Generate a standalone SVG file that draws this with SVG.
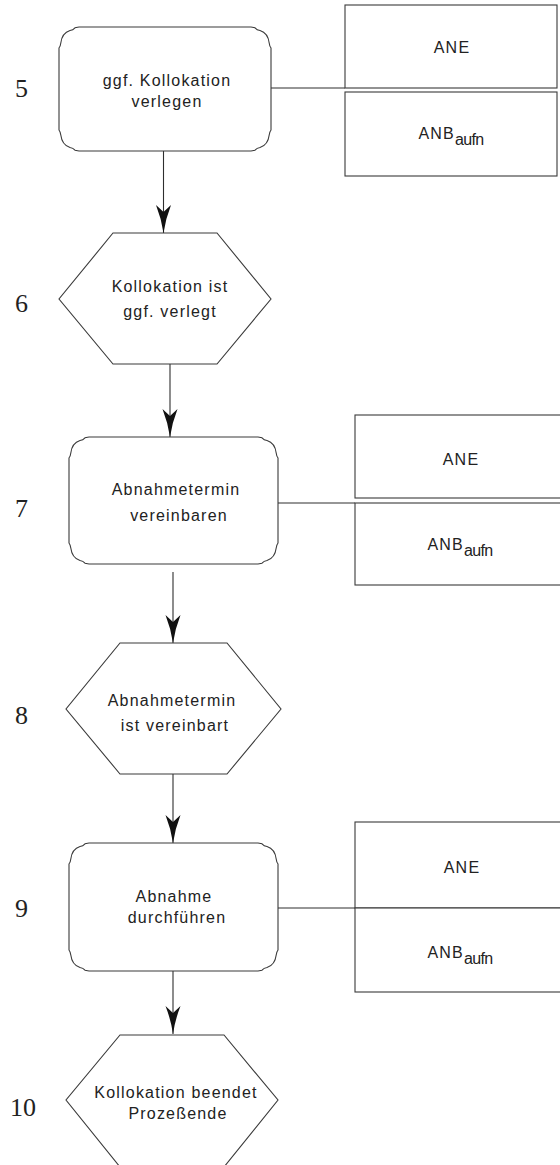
<svg xmlns="http://www.w3.org/2000/svg" width="560" height="1165" viewBox="0 0 560 1165">
  <style>
    .shape { fill: #ffffff; stroke: #3a3a3a; stroke-width: 1.1; }
    .wire { fill: none; stroke: #2e2e2e; stroke-width: 1.1; }
    .lbl { font-family: "Liberation Sans", Arial, sans-serif; font-size: 16px; letter-spacing: 1.2px; fill: #222222; text-anchor: middle; }
    .sub { font-size: 16px; letter-spacing: -0.6px; }
    .num { font-family: "Liberation Serif", "Times New Roman", serif; font-size: 26px; fill: #222222; }
  </style>
  <defs>
    <!-- barbed arrowhead, tip at the path end -->
    <marker id="head" markerUnits="userSpaceOnUse" orient="auto" refX="0" refY="0" markerWidth="40" markerHeight="20" viewBox="-30 -10 32 20" overflow="visible">
      <path d="M0,0 Q-14,-2 -28,-7.5 L-21,0 L-28,7.5 Q-14,2 0,0 Z" fill="#111111"/>
    </marker>
  </defs>

  <!-- step numbers -->
  <g id="step-numbers">
    <text class="num" x="15" y="97">5</text>
    <text class="num" x="15" y="312">6</text>
    <text class="num" x="15" y="517">7</text>
    <text class="num" x="15" y="724">8</text>
    <text class="num" x="15" y="917">9</text>
    <text class="num" x="10" y="1116">10</text>
  </g>

  <!-- connectors -->
  <g id="connectors">
    <line class="wire" x1="163.5" y1="151" x2="163.5" y2="233" marker-end="url(#head)"/>
    <line class="wire" x1="170" y1="364" x2="170" y2="437" marker-end="url(#head)"/>
    <line class="wire" x1="173" y1="572" x2="173" y2="643" marker-end="url(#head)"/>
    <line class="wire" x1="173" y1="774" x2="173" y2="843" marker-end="url(#head)"/>
    <line class="wire" x1="173" y1="971" x2="173" y2="1034" marker-end="url(#head)"/>
    <line class="wire" x1="271" y1="88" x2="345" y2="88"/>
    <line class="wire" x1="278" y1="503" x2="355" y2="503"/>
    <line class="wire" x1="278" y1="908" x2="355" y2="908"/>
  </g>

  <!-- function: ggf. Kollokation verlegen (212 x 124) -->
  <g id="fn-kollokation-verlegen">
    <path class="shape" transform="translate(59,27)" d="M20,0 h172 l4,0.8 q2,2.2 5,2.7 q8,2.5 9.2,12.5 q0.3,3 1.8,5 l0,2 v78 l0,2 q-1.5,2 -1.8,5 q-1.2,10 -9.2,12.5 q-3,0.5 -5,2.7 l-4,0.8 h-172 l-4,-0.8 q-2,-2.2 -5,-2.7 q-8,-2.5 -9.2,-12.5 q-0.3,-3 -1.8,-5 l0,-2 v-78 l0,-2 q1.5,-2 1.8,-5 q1.2,-10 9.2,-12.5 q3,-0.5 5,-2.7 z"/>
    <text class="lbl" x="167" y="86">ggf. Kollokation</text>
    <text class="lbl" x="167" y="107">verlegen</text>
  </g>

  <g id="org-1">
    <rect class="shape" x="345" y="5" width="212" height="83"/>
    <text class="lbl" x="452" y="53">ANE</text>
    <rect class="shape" x="345" y="92" width="212" height="84"/>
    <text class="lbl" x="451" y="139">ANB<tspan class="sub" dy="6">aufn</tspan></text>
  </g>

  <!-- event: Kollokation ist ggf. verlegt -->
  <g id="ev-kollokation-verlegt">
    <polygon class="shape" points="113,233 217,233 271,299 217,364 113,364 59,299"/>
    <text class="lbl" x="170" y="292">Kollokation ist</text>
    <text class="lbl" x="170" y="317">ggf. verlegt</text>
  </g>

  <!-- function: Abnahmetermin vereinbaren (209 x 127) -->
  <g id="fn-termin-vereinbaren">
    <path class="shape" transform="translate(69,437)" d="M20,0 h169 l4,0.8 q2,2.2 5,2.7 q8,2.5 9.2,12.5 q0.3,3 1.8,5 l0,2 v81 l0,2 q-1.5,2 -1.8,5 q-1.2,10 -9.2,12.5 q-3,0.5 -5,2.7 l-4,0.8 h-169 l-4,-0.8 q-2,-2.2 -5,-2.7 q-8,-2.5 -9.2,-12.5 q-0.3,-3 -1.8,-5 l0,-2 v-81 l0,-2 q1.5,-2 1.8,-5 q1.2,-10 9.2,-12.5 q3,-0.5 5,-2.7 z"/>
    <text class="lbl" x="176" y="495">Abnahmetermin</text>
    <text class="lbl" x="179" y="521">vereinbaren</text>
  </g>

  <g id="org-2">
    <rect class="shape" x="355" y="415" width="215" height="83"/>
    <text class="lbl" x="461" y="465">ANE</text>
    <rect class="shape" x="355" y="503" width="215" height="82"/>
    <text class="lbl" x="460" y="550">ANB<tspan class="sub" dy="6">aufn</tspan></text>
  </g>

  <!-- event: Abnahmetermin ist vereinbart -->
  <g id="ev-termin-vereinbart">
    <polygon class="shape" points="120,643 227,643 281,709 227,774 120,774 66,709"/>
    <text class="lbl" x="172" y="706">Abnahmetermin</text>
    <text class="lbl" x="175" y="731">ist vereinbart</text>
  </g>

  <!-- function: Abnahme durchführen (209 x 128) -->
  <g id="fn-abnahme">
    <path class="shape" transform="translate(69,843)" d="M20,0 h169 l4,0.8 q2,2.2 5,2.7 q8,2.5 9.2,12.5 q0.3,3 1.8,5 l0,2 v82 l0,2 q-1.5,2 -1.8,5 q-1.2,10 -9.2,12.5 q-3,0.5 -5,2.7 l-4,0.8 h-169 l-4,-0.8 q-2,-2.2 -5,-2.7 q-8,-2.5 -9.2,-12.5 q-0.3,-3 -1.8,-5 l0,-2 v-82 l0,-2 q1.5,-2 1.8,-5 q1.2,-10 9.2,-12.5 q3,-0.5 5,-2.7 z"/>
    <text class="lbl" x="174" y="902">Abnahme</text>
    <text class="lbl" x="177" y="923">durchführen</text>
  </g>

  <g id="org-3">
    <rect class="shape" x="355" y="822" width="215" height="86"/>
    <text class="lbl" x="462" y="873">ANE</text>
    <rect class="shape" x="355" y="908" width="215" height="84"/>
    <text class="lbl" x="460" y="958">ANB<tspan class="sub" dy="6">aufn</tspan></text>
  </g>

  <!-- end event: Kollokation beendet / Prozeßende (lower edge runs off the page) -->
  <g id="ev-prozessende">
    <polygon class="shape" points="120,1035 224,1035 278,1100 224,1167 120,1167 66,1100"/>
    <text class="lbl" x="176" y="1098">Kollokation beendet</text>
    <text class="lbl" x="178" y="1119">Prozeßende</text>
  </g>
</svg>
